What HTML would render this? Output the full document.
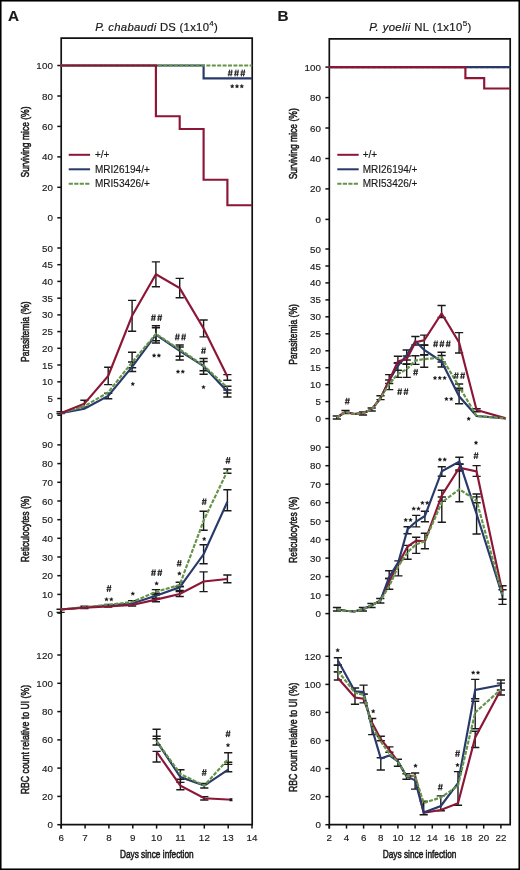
<!DOCTYPE html>
<html><head><meta charset="utf-8"><style>
html,body{margin:0;padding:0;background:#fff;}
body{width:520px;height:870px;overflow:hidden;}
svg{display:block;will-change:transform;}
text{font-family:"Liberation Sans", sans-serif;fill:#1a1a1a;stroke:#1a1a1a;stroke-width:0.15px;}
.hv{stroke:#1a1a1a;stroke-width:0.55px;}
.hs{stroke:#1a1a1a;stroke-width:0.2px;}
</style></head><body>
<svg width="520" height="870" viewBox="0 0 520 870">
<rect width="520" height="870" fill="#fff"/>
<rect x="0.75" y="0.75" width="518.5" height="868.5" fill="none" stroke="#000" stroke-width="1.6"/>
<text x="8.1" y="21.2" font-size="15.3" font-weight="bold">A</text>
<text x="277.5" y="21.1" font-size="15.3" font-weight="bold">B</text>
<text x="156.6" y="31.1" font-size="11.3" letter-spacing="0.28" text-anchor="middle" class="hs"><tspan font-style="italic">P. chabaudi</tspan> DS (1x10<tspan font-size="8" dy="-5">4</tspan><tspan dy="5">)</tspan></text>
<text x="420.4" y="31.1" font-size="11.3" letter-spacing="0.38" text-anchor="middle" class="hs"><tspan font-style="italic">P. yoelii</tspan> NL (1x10<tspan font-size="8" dy="-5">5</tspan><tspan dy="5">)</tspan></text>
<path d="M61.2,38.1H252.2M61.2,37.300000000000004V828.6M252.2,37.300000000000004V824.7M60.400000000000006,824.7H253.0" stroke="#111" stroke-width="1.7" fill="none"/>
<path d="M329.3,38.9H510.2M329.3,38.1V828.6M510.2,38.1V824.7M328.5,824.7H511.0" stroke="#111" stroke-width="1.7" fill="none"/>
<path d="M61.2,824.7V828.6" stroke="#111" stroke-width="1.5"/>
<text x="61.3" y="841.2" font-size="9.8" text-anchor="middle" letter-spacing="0.15">6</text>
<path d="M85.1,824.7V828.6" stroke="#111" stroke-width="1.5"/>
<text x="85.1" y="841.2" font-size="9.8" text-anchor="middle" letter-spacing="0.15">7</text>
<path d="M108.9,824.7V828.6" stroke="#111" stroke-width="1.5"/>
<text x="109.0" y="841.2" font-size="9.8" text-anchor="middle" letter-spacing="0.15">8</text>
<path d="M132.8,824.7V828.6" stroke="#111" stroke-width="1.5"/>
<text x="132.8" y="841.2" font-size="9.8" text-anchor="middle" letter-spacing="0.15">9</text>
<path d="M156.6,824.7V828.6" stroke="#111" stroke-width="1.5"/>
<text x="156.7" y="841.2" font-size="9.8" text-anchor="middle" letter-spacing="0.15">10</text>
<path d="M180.4,824.7V828.6" stroke="#111" stroke-width="1.5"/>
<text x="180.5" y="841.2" font-size="9.8" text-anchor="middle" letter-spacing="0.15">11</text>
<path d="M204.3,824.7V828.6" stroke="#111" stroke-width="1.5"/>
<text x="204.4" y="841.2" font-size="9.8" text-anchor="middle" letter-spacing="0.15">12</text>
<path d="M228.2,824.7V828.6" stroke="#111" stroke-width="1.5"/>
<text x="228.2" y="841.2" font-size="9.8" text-anchor="middle" letter-spacing="0.15">13</text>
<path d="M252.0,824.7V828.6" stroke="#111" stroke-width="1.5"/>
<text x="252.1" y="841.2" font-size="9.8" text-anchor="middle" letter-spacing="0.15">14</text>
<path d="M329.3,824.7V828.6" stroke="#111" stroke-width="1.5"/>
<text x="329.4" y="841.2" font-size="9.8" text-anchor="middle" letter-spacing="0.15">2</text>
<path d="M346.5,824.7V828.6" stroke="#111" stroke-width="1.5"/>
<text x="346.5" y="841.2" font-size="9.8" text-anchor="middle" letter-spacing="0.15">4</text>
<path d="M363.6,824.7V828.6" stroke="#111" stroke-width="1.5"/>
<text x="363.7" y="841.2" font-size="9.8" text-anchor="middle" letter-spacing="0.15">6</text>
<path d="M380.8,824.7V828.6" stroke="#111" stroke-width="1.5"/>
<text x="380.9" y="841.2" font-size="9.8" text-anchor="middle" letter-spacing="0.15">8</text>
<path d="M397.9,824.7V828.6" stroke="#111" stroke-width="1.5"/>
<text x="398.0" y="841.2" font-size="9.8" text-anchor="middle" letter-spacing="0.15">10</text>
<path d="M415.1,824.7V828.6" stroke="#111" stroke-width="1.5"/>
<text x="415.2" y="841.2" font-size="9.8" text-anchor="middle" letter-spacing="0.15">12</text>
<path d="M432.3,824.7V828.6" stroke="#111" stroke-width="1.5"/>
<text x="432.3" y="841.2" font-size="9.8" text-anchor="middle" letter-spacing="0.15">14</text>
<path d="M449.4,824.7V828.6" stroke="#111" stroke-width="1.5"/>
<text x="449.5" y="841.2" font-size="9.8" text-anchor="middle" letter-spacing="0.15">16</text>
<path d="M466.6,824.7V828.6" stroke="#111" stroke-width="1.5"/>
<text x="466.7" y="841.2" font-size="9.8" text-anchor="middle" letter-spacing="0.15">18</text>
<path d="M483.7,824.7V828.6" stroke="#111" stroke-width="1.5"/>
<text x="483.8" y="841.2" font-size="9.8" text-anchor="middle" letter-spacing="0.15">20</text>
<path d="M500.9,824.7V828.6" stroke="#111" stroke-width="1.5"/>
<text x="501.0" y="841.2" font-size="9.8" text-anchor="middle" letter-spacing="0.15">22</text>
<text transform="translate(156.8,858.3) scale(0.755,1)" font-size="11" text-anchor="middle" class="hv">Days since infection</text>
<text transform="translate(419.6,858.3) scale(0.755,1)" font-size="11" text-anchor="middle" class="hv">Days since infection</text>
<path d="M57.3,217.8H61.2" stroke="#111" stroke-width="1.5"/>
<text x="53.1" y="221.3" font-size="9.8" text-anchor="end" letter-spacing="0.15">0</text>
<path d="M57.3,187.3H61.2" stroke="#111" stroke-width="1.5"/>
<text x="53.1" y="190.8" font-size="9.8" text-anchor="end" letter-spacing="0.15">20</text>
<path d="M57.3,156.9H61.2" stroke="#111" stroke-width="1.5"/>
<text x="53.1" y="160.4" font-size="9.8" text-anchor="end" letter-spacing="0.15">40</text>
<path d="M57.3,126.4H61.2" stroke="#111" stroke-width="1.5"/>
<text x="53.1" y="129.9" font-size="9.8" text-anchor="end" letter-spacing="0.15">60</text>
<path d="M57.3,96.0H61.2" stroke="#111" stroke-width="1.5"/>
<text x="53.1" y="99.5" font-size="9.8" text-anchor="end" letter-spacing="0.15">80</text>
<path d="M57.3,65.5H61.2" stroke="#111" stroke-width="1.5"/>
<text x="53.1" y="69.0" font-size="9.8" text-anchor="end" letter-spacing="0.15">100</text>
<path d="M57.3,415.2H61.2" stroke="#111" stroke-width="1.5"/>
<text x="53.1" y="418.7" font-size="9.8" text-anchor="end" letter-spacing="0.15">0</text>
<path d="M57.3,398.5H61.2" stroke="#111" stroke-width="1.5"/>
<text x="53.1" y="402.0" font-size="9.8" text-anchor="end" letter-spacing="0.15">5</text>
<path d="M57.3,381.8H61.2" stroke="#111" stroke-width="1.5"/>
<text x="53.1" y="385.3" font-size="9.8" text-anchor="end" letter-spacing="0.15">10</text>
<path d="M57.3,365.0H61.2" stroke="#111" stroke-width="1.5"/>
<text x="53.1" y="368.5" font-size="9.8" text-anchor="end" letter-spacing="0.15">15</text>
<path d="M57.3,348.3H61.2" stroke="#111" stroke-width="1.5"/>
<text x="53.1" y="351.8" font-size="9.8" text-anchor="end" letter-spacing="0.15">20</text>
<path d="M57.3,331.6H61.2" stroke="#111" stroke-width="1.5"/>
<text x="53.1" y="335.1" font-size="9.8" text-anchor="end" letter-spacing="0.15">25</text>
<path d="M57.3,314.9H61.2" stroke="#111" stroke-width="1.5"/>
<text x="53.1" y="318.4" font-size="9.8" text-anchor="end" letter-spacing="0.15">30</text>
<path d="M57.3,298.2H61.2" stroke="#111" stroke-width="1.5"/>
<text x="53.1" y="301.7" font-size="9.8" text-anchor="end" letter-spacing="0.15">35</text>
<path d="M57.3,281.4H61.2" stroke="#111" stroke-width="1.5"/>
<text x="53.1" y="284.9" font-size="9.8" text-anchor="end" letter-spacing="0.15">40</text>
<path d="M57.3,264.7H61.2" stroke="#111" stroke-width="1.5"/>
<text x="53.1" y="268.2" font-size="9.8" text-anchor="end" letter-spacing="0.15">45</text>
<path d="M57.3,248.0H61.2" stroke="#111" stroke-width="1.5"/>
<text x="53.1" y="251.5" font-size="9.8" text-anchor="end" letter-spacing="0.15">50</text>
<path d="M57.3,613.1H61.2" stroke="#111" stroke-width="1.5"/>
<text x="53.1" y="616.6" font-size="9.8" text-anchor="end" letter-spacing="0.15">0</text>
<path d="M57.3,594.4H61.2" stroke="#111" stroke-width="1.5"/>
<text x="53.1" y="597.9" font-size="9.8" text-anchor="end" letter-spacing="0.15">10</text>
<path d="M57.3,575.7H61.2" stroke="#111" stroke-width="1.5"/>
<text x="53.1" y="579.2" font-size="9.8" text-anchor="end" letter-spacing="0.15">20</text>
<path d="M57.3,557.0H61.2" stroke="#111" stroke-width="1.5"/>
<text x="53.1" y="560.5" font-size="9.8" text-anchor="end" letter-spacing="0.15">30</text>
<path d="M57.3,538.3H61.2" stroke="#111" stroke-width="1.5"/>
<text x="53.1" y="541.8" font-size="9.8" text-anchor="end" letter-spacing="0.15">40</text>
<path d="M57.3,519.7H61.2" stroke="#111" stroke-width="1.5"/>
<text x="53.1" y="523.2" font-size="9.8" text-anchor="end" letter-spacing="0.15">50</text>
<path d="M57.3,501.0H61.2" stroke="#111" stroke-width="1.5"/>
<text x="53.1" y="504.5" font-size="9.8" text-anchor="end" letter-spacing="0.15">60</text>
<path d="M57.3,482.3H61.2" stroke="#111" stroke-width="1.5"/>
<text x="53.1" y="485.8" font-size="9.8" text-anchor="end" letter-spacing="0.15">70</text>
<path d="M57.3,463.6H61.2" stroke="#111" stroke-width="1.5"/>
<text x="53.1" y="467.1" font-size="9.8" text-anchor="end" letter-spacing="0.15">80</text>
<path d="M57.3,444.9H61.2" stroke="#111" stroke-width="1.5"/>
<text x="53.1" y="448.4" font-size="9.8" text-anchor="end" letter-spacing="0.15">90</text>
<path d="M57.3,824.7H61.2" stroke="#111" stroke-width="1.5"/>
<text x="53.1" y="828.2" font-size="9.8" text-anchor="end" letter-spacing="0.15">0</text>
<path d="M57.3,796.4H61.2" stroke="#111" stroke-width="1.5"/>
<text x="53.1" y="799.9" font-size="9.8" text-anchor="end" letter-spacing="0.15">20</text>
<path d="M57.3,768.1H61.2" stroke="#111" stroke-width="1.5"/>
<text x="53.1" y="771.6" font-size="9.8" text-anchor="end" letter-spacing="0.15">40</text>
<path d="M57.3,739.9H61.2" stroke="#111" stroke-width="1.5"/>
<text x="53.1" y="743.4" font-size="9.8" text-anchor="end" letter-spacing="0.15">60</text>
<path d="M57.3,711.6H61.2" stroke="#111" stroke-width="1.5"/>
<text x="53.1" y="715.1" font-size="9.8" text-anchor="end" letter-spacing="0.15">80</text>
<path d="M57.3,683.3H61.2" stroke="#111" stroke-width="1.5"/>
<text x="53.1" y="686.8" font-size="9.8" text-anchor="end" letter-spacing="0.15">100</text>
<path d="M57.3,655.0H61.2" stroke="#111" stroke-width="1.5"/>
<text x="53.1" y="658.5" font-size="9.8" text-anchor="end" letter-spacing="0.15">120</text>
<path d="M325.4,219.4H329.3" stroke="#111" stroke-width="1.5"/>
<text x="321.2" y="222.9" font-size="9.8" text-anchor="end" letter-spacing="0.15">0</text>
<path d="M325.4,188.9H329.3" stroke="#111" stroke-width="1.5"/>
<text x="321.2" y="192.4" font-size="9.8" text-anchor="end" letter-spacing="0.15">20</text>
<path d="M325.4,158.5H329.3" stroke="#111" stroke-width="1.5"/>
<text x="321.2" y="162.0" font-size="9.8" text-anchor="end" letter-spacing="0.15">40</text>
<path d="M325.4,128.0H329.3" stroke="#111" stroke-width="1.5"/>
<text x="321.2" y="131.5" font-size="9.8" text-anchor="end" letter-spacing="0.15">60</text>
<path d="M325.4,97.6H329.3" stroke="#111" stroke-width="1.5"/>
<text x="321.2" y="101.1" font-size="9.8" text-anchor="end" letter-spacing="0.15">80</text>
<path d="M325.4,67.1H329.3" stroke="#111" stroke-width="1.5"/>
<text x="321.2" y="70.6" font-size="9.8" text-anchor="end" letter-spacing="0.15">100</text>
<path d="M325.4,418.6H329.3" stroke="#111" stroke-width="1.5"/>
<text x="321.2" y="422.1" font-size="9.8" text-anchor="end" letter-spacing="0.15">0</text>
<path d="M325.4,401.6H329.3" stroke="#111" stroke-width="1.5"/>
<text x="321.2" y="405.1" font-size="9.8" text-anchor="end" letter-spacing="0.15">5</text>
<path d="M325.4,384.7H329.3" stroke="#111" stroke-width="1.5"/>
<text x="321.2" y="388.2" font-size="9.8" text-anchor="end" letter-spacing="0.15">10</text>
<path d="M325.4,367.7H329.3" stroke="#111" stroke-width="1.5"/>
<text x="321.2" y="371.2" font-size="9.8" text-anchor="end" letter-spacing="0.15">15</text>
<path d="M325.4,350.8H329.3" stroke="#111" stroke-width="1.5"/>
<text x="321.2" y="354.3" font-size="9.8" text-anchor="end" letter-spacing="0.15">20</text>
<path d="M325.4,333.8H329.3" stroke="#111" stroke-width="1.5"/>
<text x="321.2" y="337.3" font-size="9.8" text-anchor="end" letter-spacing="0.15">25</text>
<path d="M325.4,316.8H329.3" stroke="#111" stroke-width="1.5"/>
<text x="321.2" y="320.3" font-size="9.8" text-anchor="end" letter-spacing="0.15">30</text>
<path d="M325.4,299.9H329.3" stroke="#111" stroke-width="1.5"/>
<text x="321.2" y="303.4" font-size="9.8" text-anchor="end" letter-spacing="0.15">35</text>
<path d="M325.4,282.9H329.3" stroke="#111" stroke-width="1.5"/>
<text x="321.2" y="286.4" font-size="9.8" text-anchor="end" letter-spacing="0.15">40</text>
<path d="M325.4,266.0H329.3" stroke="#111" stroke-width="1.5"/>
<text x="321.2" y="269.5" font-size="9.8" text-anchor="end" letter-spacing="0.15">45</text>
<path d="M325.4,249.0H329.3" stroke="#111" stroke-width="1.5"/>
<text x="321.2" y="252.5" font-size="9.8" text-anchor="end" letter-spacing="0.15">50</text>
<path d="M325.4,613.6H329.3" stroke="#111" stroke-width="1.5"/>
<text x="321.2" y="617.1" font-size="9.8" text-anchor="end" letter-spacing="0.15">0</text>
<path d="M325.4,595.1H329.3" stroke="#111" stroke-width="1.5"/>
<text x="321.2" y="598.6" font-size="9.8" text-anchor="end" letter-spacing="0.15">10</text>
<path d="M325.4,576.6H329.3" stroke="#111" stroke-width="1.5"/>
<text x="321.2" y="580.1" font-size="9.8" text-anchor="end" letter-spacing="0.15">20</text>
<path d="M325.4,558.1H329.3" stroke="#111" stroke-width="1.5"/>
<text x="321.2" y="561.6" font-size="9.8" text-anchor="end" letter-spacing="0.15">30</text>
<path d="M325.4,539.6H329.3" stroke="#111" stroke-width="1.5"/>
<text x="321.2" y="543.1" font-size="9.8" text-anchor="end" letter-spacing="0.15">40</text>
<path d="M325.4,521.2H329.3" stroke="#111" stroke-width="1.5"/>
<text x="321.2" y="524.7" font-size="9.8" text-anchor="end" letter-spacing="0.15">50</text>
<path d="M325.4,502.7H329.3" stroke="#111" stroke-width="1.5"/>
<text x="321.2" y="506.2" font-size="9.8" text-anchor="end" letter-spacing="0.15">60</text>
<path d="M325.4,484.2H329.3" stroke="#111" stroke-width="1.5"/>
<text x="321.2" y="487.7" font-size="9.8" text-anchor="end" letter-spacing="0.15">70</text>
<path d="M325.4,465.7H329.3" stroke="#111" stroke-width="1.5"/>
<text x="321.2" y="469.2" font-size="9.8" text-anchor="end" letter-spacing="0.15">80</text>
<path d="M325.4,447.2H329.3" stroke="#111" stroke-width="1.5"/>
<text x="321.2" y="450.7" font-size="9.8" text-anchor="end" letter-spacing="0.15">90</text>
<path d="M325.4,824.7H329.3" stroke="#111" stroke-width="1.5"/>
<text x="321.2" y="828.2" font-size="9.8" text-anchor="end" letter-spacing="0.15">0</text>
<path d="M325.4,796.6H329.3" stroke="#111" stroke-width="1.5"/>
<text x="321.2" y="800.1" font-size="9.8" text-anchor="end" letter-spacing="0.15">20</text>
<path d="M325.4,768.6H329.3" stroke="#111" stroke-width="1.5"/>
<text x="321.2" y="772.1" font-size="9.8" text-anchor="end" letter-spacing="0.15">40</text>
<path d="M325.4,740.5H329.3" stroke="#111" stroke-width="1.5"/>
<text x="321.2" y="744.0" font-size="9.8" text-anchor="end" letter-spacing="0.15">60</text>
<path d="M325.4,712.4H329.3" stroke="#111" stroke-width="1.5"/>
<text x="321.2" y="715.9" font-size="9.8" text-anchor="end" letter-spacing="0.15">80</text>
<path d="M325.4,684.4H329.3" stroke="#111" stroke-width="1.5"/>
<text x="321.2" y="687.9" font-size="9.8" text-anchor="end" letter-spacing="0.15">100</text>
<path d="M325.4,656.3H329.3" stroke="#111" stroke-width="1.5"/>
<text x="321.2" y="659.8" font-size="9.8" text-anchor="end" letter-spacing="0.15">120</text>
<text transform="translate(28.7,142.0) rotate(-90) scale(0.755,1)" font-size="11.3" text-anchor="middle" class="hv">Surviving mice (%)</text>
<text transform="translate(28.7,331.6) rotate(-90) scale(0.755,1)" font-size="11.3" text-anchor="middle" class="hv">Parasitemia (%)</text>
<text transform="translate(28.7,529.0) rotate(-90) scale(0.755,1)" font-size="11.3" text-anchor="middle" class="hv">Reticulocytes (%)</text>
<text transform="translate(28.7,739.6) rotate(-90) scale(0.772,1)" font-size="11.3" text-anchor="middle" class="hv">RBC count relative to UI (%)</text>
<text transform="translate(296.8,143.8) rotate(-90) scale(0.755,1)" font-size="11.3" text-anchor="middle" class="hv">Surviving mice (%)</text>
<text transform="translate(296.8,334.5) rotate(-90) scale(0.755,1)" font-size="11.3" text-anchor="middle" class="hv">Parasitemia (%)</text>
<text transform="translate(296.8,529.8) rotate(-90) scale(0.755,1)" font-size="11.3" text-anchor="middle" class="hv">Reticulocytes (%)</text>
<text transform="translate(296.8,737.4) rotate(-90) scale(0.772,1)" font-size="11.3" text-anchor="middle" class="hv">RBC count relative to UI (%)</text>
<path d="M68.7,154.8H90.1" stroke="#8c1636" stroke-width="2"/>
<text x="95.0" y="158.4" font-size="10" text-anchor="start" >+/+</text>
<path d="M68.7,169.3H90.1" stroke="#28396a" stroke-width="2"/>
<text x="95.0" y="172.9" font-size="10" text-anchor="start" >MRI26194/+</text>
<path d="M68.7,183.8H90.1" stroke="#649349" stroke-width="2" stroke-dasharray="4.2,1.3"/>
<text x="95.0" y="187.4" font-size="10" text-anchor="start" >MRI53426/+</text>
<path d="M337.3,154.8H358.7" stroke="#8c1636" stroke-width="2"/>
<text x="362.7" y="158.4" font-size="10" text-anchor="start" >+/+</text>
<path d="M337.3,169.3H358.7" stroke="#28396a" stroke-width="2"/>
<text x="362.7" y="172.9" font-size="10" text-anchor="start" >MRI26194/+</text>
<path d="M337.3,183.8H358.7" stroke="#649349" stroke-width="2" stroke-dasharray="4.2,1.3"/>
<text x="362.7" y="187.4" font-size="10" text-anchor="start" >MRI53426/+</text>
<polyline points="60.6,65.5 203.6,65.5 203.6,78.4 252.2,78.4" fill="none" stroke="#28396a" stroke-width="2.15" stroke-linejoin="miter"/>
<polyline points="60.6,65.5 252.2,65.5" fill="none" stroke="#649349" stroke-width="2.15" stroke-linejoin="miter" stroke-dasharray="4.0,1.4"/>
<polyline points="60.6,65.5 155.9,65.5 155.9,116.2 179.7,116.2 179.7,129.0 203.6,129.0 203.6,179.7 227.4,179.7 227.4,205.2 252.2,205.2" fill="none" stroke="#8c1636" stroke-width="2.15" stroke-linejoin="miter"/>
<path d="M229.75,69.70L228.65,76.30M231.95,69.70L230.85,76.30M228.00,71.90H232.70M227.70,74.30H232.40M236.05,69.70L234.95,76.30M238.25,69.70L237.15,76.30M234.30,71.90H239.00M234.00,74.30H238.70M242.35,69.70L241.25,76.30M244.55,69.70L243.45,76.30M240.60,71.90H245.30M240.30,74.30H245.00" stroke="#2a2a2a" stroke-width="1.05" fill="none"/>
<polygon points="232.20,84.30 232.73,85.57 234.10,85.68 233.06,86.58 233.38,87.92 232.20,87.20 231.02,87.92 231.34,86.58 230.30,85.68 231.67,85.57" fill="#151515" stroke="#151515" stroke-width="0.35" stroke-linejoin="round"/>
<polygon points="237.00,84.30 237.53,85.57 238.90,85.68 237.86,86.58 238.18,87.92 237.00,87.20 235.82,87.92 236.14,86.58 235.10,85.68 236.47,85.57" fill="#151515" stroke="#151515" stroke-width="0.35" stroke-linejoin="round"/>
<polygon points="241.80,84.30 242.33,85.57 243.70,85.68 242.66,86.58 242.98,87.92 241.80,87.20 240.62,87.92 240.94,86.58 239.90,85.68 241.27,85.57" fill="#151515" stroke="#151515" stroke-width="0.35" stroke-linejoin="round"/>
<polyline points="328.7,67.1 510.2,67.1" fill="none" stroke="#649349" stroke-width="2.15" stroke-linejoin="miter" stroke-dasharray="4.0,1.4"/>
<polyline points="328.7,67.1 510.2,67.1" fill="none" stroke="#28396a" stroke-width="2.15" stroke-linejoin="miter"/>
<polyline points="328.7,67.1 465.4,67.1 465.4,78.1 484.2,78.1 484.2,88.5 510.2,88.5" fill="none" stroke="#8c1636" stroke-width="2.15" stroke-linejoin="miter"/>
<path d="M60.6,411.8V413.6M56.5,411.8H64.7M56.5,413.6H64.7" stroke="#1a1a1a" stroke-width="1.4" fill="none"/>
<path d="M84.4,400.2V407.0M80.3,400.2H88.5M80.3,407.0H88.5" stroke="#1a1a1a" stroke-width="1.4" fill="none"/>
<path d="M108.2,367.3V384.6M104.1,367.3H112.3M104.1,384.6H112.3" stroke="#1a1a1a" stroke-width="1.4" fill="none"/>
<path d="M132.1,300.4V331.2M128.0,300.4H136.2M128.0,331.2H136.2" stroke="#1a1a1a" stroke-width="1.4" fill="none"/>
<path d="M155.9,261.9V286.8M151.8,261.9H160.0M151.8,286.8H160.0" stroke="#1a1a1a" stroke-width="1.4" fill="none"/>
<path d="M179.7,278.4V297.8M175.6,278.4H183.8M175.6,297.8H183.8" stroke="#1a1a1a" stroke-width="1.4" fill="none"/>
<path d="M203.6,320.0V336.9M199.5,320.0H207.7M199.5,336.9H207.7" stroke="#1a1a1a" stroke-width="1.4" fill="none"/>
<path d="M227.4,374.6V380.3M223.3,374.6H231.5M223.3,380.3H231.5" stroke="#1a1a1a" stroke-width="1.4" fill="none"/>
<path d="M108.2,393.3V398.8M104.1,393.3H112.3M104.1,398.8H112.3" stroke="#1a1a1a" stroke-width="1.4" fill="none"/>
<path d="M132.1,362.0V371.5M128.0,362.0H136.2M128.0,371.5H136.2" stroke="#1a1a1a" stroke-width="1.4" fill="none"/>
<path d="M155.9,327.7V343.0M151.8,327.7H160.0M151.8,343.0H160.0" stroke="#1a1a1a" stroke-width="1.4" fill="none"/>
<path d="M179.7,347.0V360.0M175.6,347.0H183.8M175.6,360.0H183.8" stroke="#1a1a1a" stroke-width="1.4" fill="none"/>
<path d="M203.6,361.5V374.2M199.5,361.5H207.7M199.5,374.2H207.7" stroke="#1a1a1a" stroke-width="1.4" fill="none"/>
<path d="M227.4,390.0V397.0M223.3,390.0H231.5M223.3,397.0H231.5" stroke="#1a1a1a" stroke-width="1.4" fill="none"/>
<path d="M132.1,352.3V367.7M128.0,352.3H136.2M128.0,367.7H136.2" stroke="#1a1a1a" stroke-width="1.4" fill="none"/>
<path d="M155.9,325.8V340.8M151.8,325.8H160.0M151.8,340.8H160.0" stroke="#1a1a1a" stroke-width="1.4" fill="none"/>
<path d="M179.7,345.0V356.2M175.6,345.0H183.8M175.6,356.2H183.8" stroke="#1a1a1a" stroke-width="1.4" fill="none"/>
<path d="M203.6,358.5V370.8M199.5,358.5H207.7M199.5,370.8H207.7" stroke="#1a1a1a" stroke-width="1.4" fill="none"/>
<path d="M227.4,386.2V393.0M223.3,386.2H231.5M223.3,393.0H231.5" stroke="#1a1a1a" stroke-width="1.4" fill="none"/>
<polyline points="60.6,413.2 84.4,408.8 108.2,395.9 132.1,366.9 155.9,334.6 179.7,350.8 203.6,366.2 227.4,391.5" fill="none" stroke="#28396a" stroke-width="2.15" stroke-linejoin="miter"/>
<polyline points="60.6,413.2 84.4,406.2 108.2,392.4 132.1,362.3 155.9,334.0 179.7,349.5 203.6,365.5 227.4,387.7" fill="none" stroke="#649349" stroke-width="2.15" stroke-linejoin="miter" stroke-dasharray="4.0,1.4"/>
<polyline points="60.6,413.2 84.4,403.7 108.2,376.0 132.1,315.8 155.9,274.2 179.7,288.1 203.6,328.5 227.4,376.5" fill="none" stroke="#8c1636" stroke-width="2.15" stroke-linejoin="miter"/>
<polygon points="132.80,382.00 133.33,383.27 134.70,383.38 133.66,384.28 133.98,385.62 132.80,384.90 131.62,385.62 131.94,384.28 130.90,383.38 132.27,383.27" fill="#151515" stroke="#151515" stroke-width="0.35" stroke-linejoin="round"/>
<path d="M152.90,314.40L151.80,321.00M155.10,314.40L154.00,321.00M151.15,316.60H155.85M150.85,319.00H155.55M159.20,314.40L158.10,321.00M161.40,314.40L160.30,321.00M157.45,316.60H162.15M157.15,319.00H161.85" stroke="#2a2a2a" stroke-width="1.05" fill="none"/>
<polygon points="154.10,353.60 154.63,354.87 156.00,354.98 154.96,355.88 155.28,357.22 154.10,356.50 152.92,357.22 153.24,355.88 152.20,354.98 153.57,354.87" fill="#151515" stroke="#151515" stroke-width="0.35" stroke-linejoin="round"/>
<polygon points="158.90,353.60 159.43,354.87 160.80,354.98 159.76,355.88 160.08,357.22 158.90,356.50 157.72,357.22 158.04,355.88 157.00,354.98 158.37,354.87" fill="#151515" stroke="#151515" stroke-width="0.35" stroke-linejoin="round"/>
<path d="M176.80,333.70L175.70,340.30M179.00,333.70L177.90,340.30M175.05,335.90H179.75M174.75,338.30H179.45M183.10,333.70L182.00,340.30M185.30,333.70L184.20,340.30M181.35,335.90H186.05M181.05,338.30H185.75" stroke="#2a2a2a" stroke-width="1.05" fill="none"/>
<polygon points="178.00,369.70 178.53,370.97 179.90,371.08 178.86,371.98 179.18,373.32 178.00,372.60 176.82,373.32 177.14,371.98 176.10,371.08 177.47,370.97" fill="#151515" stroke="#151515" stroke-width="0.35" stroke-linejoin="round"/>
<polygon points="182.80,369.70 183.33,370.97 184.70,371.08 183.66,371.98 183.98,373.32 182.80,372.60 181.62,373.32 181.94,371.98 180.90,371.08 182.27,370.97" fill="#151515" stroke="#151515" stroke-width="0.35" stroke-linejoin="round"/>
<path d="M203.05,347.30L201.95,353.90M205.25,347.30L204.15,353.90M201.30,349.50H206.00M201.00,351.90H205.70" stroke="#2a2a2a" stroke-width="1.05" fill="none"/>
<polygon points="203.50,385.20 204.03,386.47 205.40,386.58 204.36,387.48 204.68,388.82 203.50,388.10 202.32,388.82 202.64,387.48 201.60,386.58 202.97,386.47" fill="#151515" stroke="#151515" stroke-width="0.35" stroke-linejoin="round"/>
<path d="M60.6,609.3V612.4M56.5,609.3H64.7M56.5,612.4H64.7" stroke="#1a1a1a" stroke-width="1.4" fill="none"/>
<path d="M84.4,606.3V608.6M80.3,606.3H88.5M80.3,608.6H88.5" stroke="#1a1a1a" stroke-width="1.4" fill="none"/>
<path d="M108.2,604.5V607.0M104.1,604.5H112.3M104.1,607.0H112.3" stroke="#1a1a1a" stroke-width="1.4" fill="none"/>
<path d="M132.1,600.6V606.0M128.0,600.6H136.2M128.0,606.0H136.2" stroke="#1a1a1a" stroke-width="1.4" fill="none"/>
<path d="M155.9,589.6V593.2M151.8,589.6H160.0M151.8,593.2H160.0" stroke="#1a1a1a" stroke-width="1.4" fill="none"/>
<path d="M155.9,594.8V598.2M151.8,594.8H160.0M151.8,598.2H160.0" stroke="#1a1a1a" stroke-width="1.4" fill="none"/>
<path d="M155.9,598.8V601.8M151.8,598.8H160.0M151.8,601.8H160.0" stroke="#1a1a1a" stroke-width="1.4" fill="none"/>
<path d="M179.7,582.3V586.2M175.6,582.3H183.8M175.6,586.2H183.8" stroke="#1a1a1a" stroke-width="1.4" fill="none"/>
<path d="M179.7,586.8V590.4M175.6,586.8H183.8M175.6,590.4H183.8" stroke="#1a1a1a" stroke-width="1.4" fill="none"/>
<path d="M179.7,591.5V596.5M175.6,591.5H183.8M175.6,596.5H183.8" stroke="#1a1a1a" stroke-width="1.4" fill="none"/>
<path d="M203.6,571.9V591.6M199.5,571.9H207.7M199.5,591.6H207.7" stroke="#1a1a1a" stroke-width="1.4" fill="none"/>
<path d="M227.4,575.0V582.8M223.3,575.0H231.5M223.3,582.8H231.5" stroke="#1a1a1a" stroke-width="1.4" fill="none"/>
<path d="M203.6,544.8V563.8M199.5,544.8H207.7M199.5,563.8H207.7" stroke="#1a1a1a" stroke-width="1.4" fill="none"/>
<path d="M227.4,489.7V510.7M223.3,489.7H231.5M223.3,510.7H231.5" stroke="#1a1a1a" stroke-width="1.4" fill="none"/>
<path d="M203.6,511.2V530.2M199.5,511.2H207.7M199.5,530.2H207.7" stroke="#1a1a1a" stroke-width="1.4" fill="none"/>
<path d="M227.4,469.0V473.3M223.3,469.0H231.5M223.3,473.3H231.5" stroke="#1a1a1a" stroke-width="1.4" fill="none"/>
<polyline points="60.6,609.5 84.4,607.5 108.2,605.4 132.1,603.5 155.9,595.8 179.7,587.3 203.6,554.3 227.4,501.7" fill="none" stroke="#28396a" stroke-width="2.15" stroke-linejoin="miter"/>
<polyline points="60.6,609.5 84.4,607.2 108.2,604.8 132.1,602.0 155.9,591.9 179.7,584.9 203.6,520.7 227.4,471.0" fill="none" stroke="#649349" stroke-width="2.15" stroke-linejoin="miter" stroke-dasharray="4.0,1.4"/>
<polyline points="60.6,609.5 84.4,607.8 108.2,606.5 132.1,605.0 155.9,599.6 179.7,594.0 203.6,581.5 227.4,579.0" fill="none" stroke="#8c1636" stroke-width="2.15" stroke-linejoin="miter"/>
<path d="M108.45,585.20L107.35,591.80M110.65,585.20L109.55,591.80M106.70,587.40H111.40M106.40,589.80H111.10" stroke="#2a2a2a" stroke-width="1.05" fill="none"/>
<polygon points="106.50,597.40 107.03,598.67 108.40,598.78 107.36,599.68 107.68,601.02 106.50,600.30 105.32,601.02 105.64,599.68 104.60,598.78 105.97,598.67" fill="#151515" stroke="#151515" stroke-width="0.35" stroke-linejoin="round"/>
<polygon points="111.30,597.40 111.83,598.67 113.20,598.78 112.16,599.68 112.48,601.02 111.30,600.30 110.12,601.02 110.44,599.68 109.40,598.78 110.77,598.67" fill="#151515" stroke="#151515" stroke-width="0.35" stroke-linejoin="round"/>
<polygon points="132.80,591.70 133.33,592.97 134.70,593.08 133.66,593.98 133.98,595.32 132.80,594.60 131.62,595.32 131.94,593.98 130.90,593.08 132.27,592.97" fill="#151515" stroke="#151515" stroke-width="0.35" stroke-linejoin="round"/>
<path d="M153.00,569.40L151.90,576.00M155.20,569.40L154.10,576.00M151.25,571.60H155.95M150.95,574.00H155.65M159.30,569.40L158.20,576.00M161.50,569.40L160.40,576.00M157.55,571.60H162.25M157.25,574.00H161.95" stroke="#2a2a2a" stroke-width="1.05" fill="none"/>
<polygon points="156.60,581.50 157.13,582.77 158.50,582.88 157.46,583.78 157.78,585.12 156.60,584.40 155.42,585.12 155.74,583.78 154.70,582.88 156.07,582.77" fill="#151515" stroke="#151515" stroke-width="0.35" stroke-linejoin="round"/>
<path d="M178.75,560.00L177.65,566.60M180.95,560.00L179.85,566.60M177.00,562.20H181.70M176.70,564.60H181.40" stroke="#2a2a2a" stroke-width="1.05" fill="none"/>
<polygon points="179.40,571.60 179.93,572.87 181.30,572.98 180.26,573.88 180.58,575.22 179.40,574.50 178.22,575.22 178.54,573.88 177.50,572.98 178.87,572.87" fill="#151515" stroke="#151515" stroke-width="0.35" stroke-linejoin="round"/>
<path d="M203.75,498.40L202.65,505.00M205.95,498.40L204.85,505.00M202.00,500.60H206.70M201.70,503.00H206.40" stroke="#2a2a2a" stroke-width="1.05" fill="none"/>
<polygon points="204.20,537.00 204.73,538.27 206.10,538.38 205.06,539.28 205.38,540.62 204.20,539.90 203.02,540.62 203.34,539.28 202.30,538.38 203.67,538.27" fill="#151515" stroke="#151515" stroke-width="0.35" stroke-linejoin="round"/>
<path d="M227.55,457.00L226.45,463.60M229.75,457.00L228.65,463.60M225.80,459.20H230.50M225.50,461.60H230.20" stroke="#2a2a2a" stroke-width="1.05" fill="none"/>
<path d="M156.6,751.4V762.0M152.5,751.4H160.7M152.5,762.0H160.7" stroke="#1a1a1a" stroke-width="1.4" fill="none"/>
<path d="M180.4,779.2V789.8M176.3,779.2H184.5M176.3,789.8H184.5" stroke="#1a1a1a" stroke-width="1.4" fill="none"/>
<path d="M204.3,796.6V800.0M200.2,796.6H208.4M200.2,800.0H208.4" stroke="#1a1a1a" stroke-width="1.4" fill="none"/>
<path d="M156.6,736.3V745.0M152.5,736.3H160.7M152.5,745.0H160.7" stroke="#1a1a1a" stroke-width="1.4" fill="none"/>
<path d="M180.4,769.7V782.4M176.3,769.7H184.5M176.3,782.4H184.5" stroke="#1a1a1a" stroke-width="1.4" fill="none"/>
<path d="M204.3,783.5V788.0M200.2,783.5H208.4M200.2,788.0H208.4" stroke="#1a1a1a" stroke-width="1.4" fill="none"/>
<path d="M228.2,762.3V771.8M224.1,762.3H232.3M224.1,771.8H232.3" stroke="#1a1a1a" stroke-width="1.4" fill="none"/>
<path d="M156.6,729.3V738.7M152.5,729.3H160.7M152.5,738.7H160.7" stroke="#1a1a1a" stroke-width="1.4" fill="none"/>
<path d="M228.2,752.8V764.4M224.1,752.8H232.3M224.1,764.4H232.3" stroke="#1a1a1a" stroke-width="1.4" fill="none"/>
<polyline points="156.6,751.9 180.4,785.6 204.3,798.3 232.0,799.8" fill="none" stroke="#8c1636" stroke-width="2.15" stroke-linejoin="miter"/>
<path d="M231.0,799.0V800.6M229.5,799.0H232.5M229.5,800.6H232.5" stroke="#1a1a1a" stroke-width="1.4" fill="none"/>
<polyline points="156.6,741.2 180.4,777.1 204.3,785.6 228.2,769.7" fill="none" stroke="#28396a" stroke-width="2.15" stroke-linejoin="miter"/>
<polyline points="156.6,741.2 180.4,774.0 204.3,785.6 228.2,759.1" fill="none" stroke="#649349" stroke-width="2.15" stroke-linejoin="miter" stroke-dasharray="4.0,1.4"/>
<path d="M203.75,769.20L202.65,775.80M205.95,769.20L204.85,775.80M202.00,771.40H206.70M201.70,773.80H206.40" stroke="#2a2a2a" stroke-width="1.05" fill="none"/>
<path d="M227.55,730.50L226.45,737.10M229.75,730.50L228.65,737.10M225.80,732.70H230.50M225.50,735.10H230.20" stroke="#2a2a2a" stroke-width="1.05" fill="none"/>
<polygon points="228.00,743.20 228.53,744.47 229.90,744.58 228.86,745.48 229.18,746.82 228.00,746.10 226.82,746.82 227.14,745.48 226.10,744.58 227.47,744.47" fill="#151515" stroke="#151515" stroke-width="0.35" stroke-linejoin="round"/>
<path d="M336.8,416.0V419.0M332.7,416.0H340.9M332.7,419.0H340.9" stroke="#1a1a1a" stroke-width="1.4" fill="none"/>
<path d="M345.5,410.5V413.5M341.4,410.5H349.6M341.4,413.5H349.6" stroke="#1a1a1a" stroke-width="1.4" fill="none"/>
<path d="M363.0,412.0V415.0M358.9,412.0H367.1M358.9,415.0H367.1" stroke="#1a1a1a" stroke-width="1.4" fill="none"/>
<path d="M371.7,408.0V411.0M367.6,408.0H375.8M367.6,411.0H375.8" stroke="#1a1a1a" stroke-width="1.4" fill="none"/>
<path d="M380.5,395.8V399.6M376.4,395.8H384.6M376.4,399.6H384.6" stroke="#1a1a1a" stroke-width="1.4" fill="none"/>
<path d="M389.2,374.6V383.5M385.1,374.6H393.3M385.1,383.5H393.3" stroke="#1a1a1a" stroke-width="1.4" fill="none"/>
<path d="M397.9,356.3V363.0M393.8,356.3H402.0M393.8,363.0H402.0" stroke="#1a1a1a" stroke-width="1.4" fill="none"/>
<path d="M406.7,356.0V364.2M402.6,356.0H410.8M402.6,364.2H410.8" stroke="#1a1a1a" stroke-width="1.4" fill="none"/>
<path d="M415.4,336.5V345.0M411.3,336.5H419.5M411.3,345.0H419.5" stroke="#1a1a1a" stroke-width="1.4" fill="none"/>
<path d="M424.2,335.1V345.2M420.1,335.1H428.3M420.1,345.2H428.3" stroke="#1a1a1a" stroke-width="1.4" fill="none"/>
<path d="M441.6,305.5V317.5M437.5,305.5H445.7M437.5,317.5H445.7" stroke="#1a1a1a" stroke-width="1.4" fill="none"/>
<path d="M459.1,332.6V353.0M455.0,332.6H463.2M455.0,353.0H463.2" stroke="#1a1a1a" stroke-width="1.4" fill="none"/>
<path d="M476.6,408.8V411.8M472.5,408.8H480.7M472.5,411.8H480.7" stroke="#1a1a1a" stroke-width="1.4" fill="none"/>
<path d="M397.9,363.0V370.4M393.8,363.0H402.0M393.8,370.4H402.0" stroke="#1a1a1a" stroke-width="1.4" fill="none"/>
<path d="M406.7,350.0V360.0M402.6,350.0H410.8M402.6,360.0H410.8" stroke="#1a1a1a" stroke-width="1.4" fill="none"/>
<path d="M424.2,345.0V355.0M420.1,345.0H428.3M420.1,355.0H428.3" stroke="#1a1a1a" stroke-width="1.4" fill="none"/>
<path d="M441.6,355.5V367.0M437.5,355.5H445.7M437.5,367.0H445.7" stroke="#1a1a1a" stroke-width="1.4" fill="none"/>
<path d="M459.1,390.0V403.7M455.0,390.0H463.2M455.0,403.7H463.2" stroke="#1a1a1a" stroke-width="1.4" fill="none"/>
<path d="M389.2,380.0V389.6M385.1,380.0H393.3M385.1,389.6H393.3" stroke="#1a1a1a" stroke-width="1.4" fill="none"/>
<path d="M397.9,370.4V377.4M393.8,370.4H402.0M393.8,377.4H402.0" stroke="#1a1a1a" stroke-width="1.4" fill="none"/>
<path d="M406.7,364.0V377.4M402.6,364.0H410.8M402.6,377.4H410.8" stroke="#1a1a1a" stroke-width="1.4" fill="none"/>
<path d="M415.4,355.8V364.4M411.3,355.8H419.5M411.3,364.4H419.5" stroke="#1a1a1a" stroke-width="1.4" fill="none"/>
<path d="M424.2,354.8V367.3M420.1,354.8H428.3M420.1,367.3H428.3" stroke="#1a1a1a" stroke-width="1.4" fill="none"/>
<path d="M441.6,352.2V362.0M437.5,352.2H445.7M437.5,362.0H445.7" stroke="#1a1a1a" stroke-width="1.4" fill="none"/>
<path d="M459.1,384.0V388.2M455.0,384.0H463.2M455.0,388.2H463.2" stroke="#1a1a1a" stroke-width="1.4" fill="none"/>
<polyline points="336.8,417.5 345.5,411.9 354.2,414.0 363.0,413.1 371.7,409.4 380.5,398.1 389.2,380.4 397.9,365.8 406.7,355.3 415.4,341.2 424.2,350.0 441.6,361.5 459.1,396.3 476.6,416.0 505.9,418.4" fill="none" stroke="#28396a" stroke-width="2.15" stroke-linejoin="miter"/>
<polyline points="336.8,417.5 345.5,411.9 354.2,414.0 363.0,413.1 371.7,409.4 380.5,398.1 389.2,380.4 397.9,361.5 406.7,359.0 415.4,342.3 424.2,340.4 441.6,313.5 459.1,342.4 476.6,410.0 505.9,418.4" fill="none" stroke="#8c1636" stroke-width="2.15" stroke-linejoin="miter"/>
<polyline points="336.8,417.5 345.5,411.9 354.2,414.0 363.0,413.1 371.7,409.4 380.5,398.1 389.2,384.0 397.9,374.0 406.7,369.2 415.4,360.6 424.2,359.1 441.6,357.5 459.1,386.5 476.6,416.0 505.9,418.4" fill="none" stroke="#649349" stroke-width="2.15" stroke-linejoin="miter" stroke-dasharray="4.0,1.4"/>
<path d="M346.85,397.90L345.75,404.50M349.05,397.90L347.95,404.50M345.10,400.10H349.80M344.80,402.50H349.50" stroke="#2a2a2a" stroke-width="1.05" fill="none"/>
<path d="M399.20,388.30L398.10,394.90M401.40,388.30L400.30,394.90M397.45,390.50H402.15M397.15,392.90H401.85M405.50,388.30L404.40,394.90M407.70,388.30L406.60,394.90M403.75,390.50H408.45M403.45,392.90H408.15" stroke="#2a2a2a" stroke-width="1.05" fill="none"/>
<path d="M415.15,368.90L414.05,375.50M417.35,368.90L416.25,375.50M413.40,371.10H418.10M413.10,373.50H417.80" stroke="#2a2a2a" stroke-width="1.05" fill="none"/>
<path d="M435.15,340.50L434.05,347.10M437.35,340.50L436.25,347.10M433.40,342.70H438.10M433.10,345.10H437.80M441.45,340.50L440.35,347.10M443.65,340.50L442.55,347.10M439.70,342.70H444.40M439.40,345.10H444.10M447.75,340.50L446.65,347.10M449.95,340.50L448.85,347.10M446.00,342.70H450.70M445.70,345.10H450.40" stroke="#2a2a2a" stroke-width="1.05" fill="none"/>
<polygon points="435.00,376.00 435.53,377.27 436.90,377.38 435.86,378.28 436.18,379.62 435.00,378.90 433.82,379.62 434.14,378.28 433.10,377.38 434.47,377.27" fill="#151515" stroke="#151515" stroke-width="0.35" stroke-linejoin="round"/>
<polygon points="439.80,376.00 440.33,377.27 441.70,377.38 440.66,378.28 440.98,379.62 439.80,378.90 438.62,379.62 438.94,378.28 437.90,377.38 439.27,377.27" fill="#151515" stroke="#151515" stroke-width="0.35" stroke-linejoin="round"/>
<polygon points="444.60,376.00 445.13,377.27 446.50,377.38 445.46,378.28 445.78,379.62 444.60,378.90 443.42,379.62 443.74,378.28 442.70,377.38 444.07,377.27" fill="#151515" stroke="#151515" stroke-width="0.35" stroke-linejoin="round"/>
<path d="M455.80,372.30L454.70,378.90M458.00,372.30L456.90,378.90M454.05,374.50H458.75M453.75,376.90H458.45M462.10,372.30L461.00,378.90M464.30,372.30L463.20,378.90M460.35,374.50H465.05M460.05,376.90H464.75" stroke="#2a2a2a" stroke-width="1.05" fill="none"/>
<polygon points="446.40,397.00 446.93,398.27 448.30,398.38 447.26,399.28 447.58,400.62 446.40,399.90 445.22,400.62 445.54,399.28 444.50,398.38 445.87,398.27" fill="#151515" stroke="#151515" stroke-width="0.35" stroke-linejoin="round"/>
<polygon points="451.20,397.00 451.73,398.27 453.10,398.38 452.06,399.28 452.38,400.62 451.20,399.90 450.02,400.62 450.34,399.28 449.30,398.38 450.67,398.27" fill="#151515" stroke="#151515" stroke-width="0.35" stroke-linejoin="round"/>
<polygon points="468.70,416.80 469.23,418.07 470.60,418.18 469.56,419.08 469.88,420.42 468.70,419.70 467.52,420.42 467.84,419.08 466.80,418.18 468.17,418.07" fill="#151515" stroke="#151515" stroke-width="0.35" stroke-linejoin="round"/>
<path d="M337.0,607.5V611.0M332.9,607.5H341.1M332.9,611.0H341.1" stroke="#1a1a1a" stroke-width="1.4" fill="none"/>
<path d="M362.9,607.5V611.0M358.8,607.5H367.0M358.8,611.0H367.0" stroke="#1a1a1a" stroke-width="1.4" fill="none"/>
<path d="M371.5,603.5V607.5M367.4,603.5H375.6M367.4,607.5H375.6" stroke="#1a1a1a" stroke-width="1.4" fill="none"/>
<path d="M380.3,598.5V603.0M376.2,598.5H384.4M376.2,603.0H384.4" stroke="#1a1a1a" stroke-width="1.4" fill="none"/>
<path d="M389.2,570.8V578.5M385.1,570.8H393.3M385.1,578.5H393.3" stroke="#1a1a1a" stroke-width="1.4" fill="none"/>
<path d="M398.4,560.9V575.9M394.3,560.9H402.5M394.3,575.9H402.5" stroke="#1a1a1a" stroke-width="1.4" fill="none"/>
<path d="M407.6,526.7V533.8M403.5,526.7H411.7M403.5,533.8H411.7" stroke="#1a1a1a" stroke-width="1.4" fill="none"/>
<path d="M416.2,515.4V526.9M412.1,515.4H420.3M412.1,526.9H420.3" stroke="#1a1a1a" stroke-width="1.4" fill="none"/>
<path d="M424.9,511.3V521.7M420.8,511.3H429.0M420.8,521.7H429.0" stroke="#1a1a1a" stroke-width="1.4" fill="none"/>
<path d="M441.8,466.8V476.3M437.7,466.8H445.9M437.7,476.3H445.9" stroke="#1a1a1a" stroke-width="1.4" fill="none"/>
<path d="M459.4,457.3V464.2M455.3,457.3H463.5M455.3,464.2H463.5" stroke="#1a1a1a" stroke-width="1.4" fill="none"/>
<path d="M476.6,494.0V534.0M472.5,494.0H480.7M472.5,534.0H480.7" stroke="#1a1a1a" stroke-width="1.4" fill="none"/>
<path d="M502.5,585.8V604.4M498.4,585.8H506.6M498.4,604.4H506.6" stroke="#1a1a1a" stroke-width="1.4" fill="none"/>
<path d="M502.5,589.7V599.3M498.4,589.7H506.6M498.4,599.3H506.6" stroke="#1a1a1a" stroke-width="1.4" fill="none"/>
<path d="M389.2,578.5V589.2M385.1,578.5H393.3M385.1,589.2H393.3" stroke="#1a1a1a" stroke-width="1.4" fill="none"/>
<path d="M407.6,545.4V559.2M403.5,545.4H411.7M403.5,559.2H411.7" stroke="#1a1a1a" stroke-width="1.4" fill="none"/>
<path d="M416.2,537.3V553.4M412.1,537.3H420.3M412.1,553.4H420.3" stroke="#1a1a1a" stroke-width="1.4" fill="none"/>
<path d="M424.9,533.3V548.8M420.8,533.3H429.0M420.8,548.8H429.0" stroke="#1a1a1a" stroke-width="1.4" fill="none"/>
<path d="M441.8,490.2V501.4M437.7,490.2H445.9M437.7,501.4H445.9" stroke="#1a1a1a" stroke-width="1.4" fill="none"/>
<path d="M459.4,464.0V471.0M455.3,464.0H463.5M455.3,471.0H463.5" stroke="#1a1a1a" stroke-width="1.4" fill="none"/>
<path d="M476.6,465.6V476.4M472.5,465.6H480.7M472.5,476.4H480.7" stroke="#1a1a1a" stroke-width="1.4" fill="none"/>
<path d="M441.8,497.0V522.2M437.7,497.0H445.9M437.7,522.2H445.9" stroke="#1a1a1a" stroke-width="1.4" fill="none"/>
<path d="M459.4,470.0V501.8M455.3,470.0H463.5M455.3,501.8H463.5" stroke="#1a1a1a" stroke-width="1.4" fill="none"/>
<path d="M476.6,496.9V502.8M472.5,496.9H480.7M472.5,502.8H480.7" stroke="#1a1a1a" stroke-width="1.4" fill="none"/>
<polyline points="337.0,609.2 345.6,610.8 354.2,611.5 362.9,609.2 371.5,605.4 380.3,600.8 389.2,581.5 398.4,563.8 407.6,546.5 416.2,540.7 424.9,541.3 441.8,495.4 459.4,467.7 476.6,471.5 502.5,592.5" fill="none" stroke="#8c1636" stroke-width="2.15" stroke-linejoin="miter"/>
<polyline points="337.0,609.2 345.6,610.8 354.2,611.5 362.9,609.2 371.5,605.4 380.3,600.8 389.2,576.9 398.4,562.0 407.6,529.2 416.2,521.5 424.9,516.0 441.8,471.2 459.4,461.6 476.6,514.0 502.5,596.0" fill="none" stroke="#28396a" stroke-width="2.15" stroke-linejoin="miter"/>
<polyline points="337.0,609.2 345.6,610.8 354.2,611.5 362.9,609.2 371.5,605.4 380.3,600.8 389.2,586.2 398.4,566.0 407.6,552.3 416.2,544.2 424.9,541.3 441.8,502.3 459.4,489.3 476.6,500.8 502.5,594.6" fill="none" stroke="#649349" stroke-width="2.15" stroke-linejoin="miter" stroke-dasharray="4.0,1.4"/>
<polygon points="405.70,518.00 406.23,519.27 407.60,519.38 406.56,520.28 406.88,521.62 405.70,520.90 404.52,521.62 404.84,520.28 403.80,519.38 405.17,519.27" fill="#151515" stroke="#151515" stroke-width="0.35" stroke-linejoin="round"/>
<polygon points="410.50,518.00 411.03,519.27 412.40,519.38 411.36,520.28 411.68,521.62 410.50,520.90 409.32,521.62 409.64,520.28 408.60,519.38 409.97,519.27" fill="#151515" stroke="#151515" stroke-width="0.35" stroke-linejoin="round"/>
<polygon points="413.70,506.70 414.23,507.97 415.60,508.08 414.56,508.98 414.88,510.32 413.70,509.60 412.52,510.32 412.84,508.98 411.80,508.08 413.17,507.97" fill="#151515" stroke="#151515" stroke-width="0.35" stroke-linejoin="round"/>
<polygon points="418.50,506.70 419.03,507.97 420.40,508.08 419.36,508.98 419.68,510.32 418.50,509.60 417.32,510.32 417.64,508.98 416.60,508.08 417.97,507.97" fill="#151515" stroke="#151515" stroke-width="0.35" stroke-linejoin="round"/>
<polygon points="422.40,500.90 422.93,502.17 424.30,502.28 423.26,503.18 423.58,504.52 422.40,503.80 421.22,504.52 421.54,503.18 420.50,502.28 421.87,502.17" fill="#151515" stroke="#151515" stroke-width="0.35" stroke-linejoin="round"/>
<polygon points="427.20,500.90 427.73,502.17 429.10,502.28 428.06,503.18 428.38,504.52 427.20,503.80 426.02,504.52 426.34,503.18 425.30,502.28 426.67,502.17" fill="#151515" stroke="#151515" stroke-width="0.35" stroke-linejoin="round"/>
<polygon points="439.90,457.60 440.43,458.87 441.80,458.98 440.76,459.88 441.08,461.22 439.90,460.50 438.72,461.22 439.04,459.88 438.00,458.98 439.37,458.87" fill="#151515" stroke="#151515" stroke-width="0.35" stroke-linejoin="round"/>
<polygon points="444.70,457.60 445.23,458.87 446.60,458.98 445.56,459.88 445.88,461.22 444.70,460.50 443.52,461.22 443.84,459.88 442.80,458.98 444.17,458.87" fill="#151515" stroke="#151515" stroke-width="0.35" stroke-linejoin="round"/>
<polygon points="476.00,440.80 476.53,442.07 477.90,442.18 476.86,443.08 477.18,444.42 476.00,443.70 474.82,444.42 475.14,443.08 474.10,442.18 475.47,442.07" fill="#151515" stroke="#151515" stroke-width="0.35" stroke-linejoin="round"/>
<path d="M475.55,452.30L474.45,458.90M477.75,452.30L476.65,458.90M473.80,454.50H478.50M473.50,456.90H478.20" stroke="#2a2a2a" stroke-width="1.05" fill="none"/>
<path d="M337.9,657.8V665.2M333.8,657.8H342.0M333.8,665.2H342.0" stroke="#1a1a1a" stroke-width="1.4" fill="none"/>
<path d="M337.9,665.2V671.9M333.8,665.2H342.0M333.8,671.9H342.0" stroke="#1a1a1a" stroke-width="1.4" fill="none"/>
<path d="M337.9,671.9V680.0M333.8,671.9H342.0M333.8,680.0H342.0" stroke="#1a1a1a" stroke-width="1.4" fill="none"/>
<path d="M355.0,688.0V704.2M350.9,688.0H359.1M350.9,704.2H359.1" stroke="#1a1a1a" stroke-width="1.4" fill="none"/>
<path d="M363.6,685.1V694.1M359.5,685.1H367.7M359.5,694.1H367.7" stroke="#1a1a1a" stroke-width="1.4" fill="none"/>
<path d="M363.6,694.1V702.9M359.5,694.1H367.7M359.5,702.9H367.7" stroke="#1a1a1a" stroke-width="1.4" fill="none"/>
<path d="M372.2,718.5V734.6M368.1,718.5H376.3M368.1,734.6H376.3" stroke="#1a1a1a" stroke-width="1.4" fill="none"/>
<path d="M380.8,736.2V740.8M376.7,736.2H384.9M376.7,740.8H384.9" stroke="#1a1a1a" stroke-width="1.4" fill="none"/>
<path d="M380.8,757.7V770.0M376.7,757.7H384.9M376.7,770.0H384.9" stroke="#1a1a1a" stroke-width="1.4" fill="none"/>
<path d="M389.4,746.9V752.3M385.3,746.9H393.5M385.3,752.3H393.5" stroke="#1a1a1a" stroke-width="1.4" fill="none"/>
<path d="M397.9,759.2V766.2M393.8,759.2H402.0M393.8,766.2H402.0" stroke="#1a1a1a" stroke-width="1.4" fill="none"/>
<path d="M406.5,773.8V779.2M402.4,773.8H410.6M402.4,779.2H410.6" stroke="#1a1a1a" stroke-width="1.4" fill="none"/>
<path d="M415.1,773.0V789.1M411.0,773.0H419.2M411.0,789.1H419.2" stroke="#1a1a1a" stroke-width="1.4" fill="none"/>
<path d="M423.7,801.2V814.7M419.6,801.2H427.8M419.6,814.7H427.8" stroke="#1a1a1a" stroke-width="1.4" fill="none"/>
<path d="M440.8,795.9V810.7M436.7,795.9H444.9M436.7,810.7H444.9" stroke="#1a1a1a" stroke-width="1.4" fill="none"/>
<path d="M458.0,771.6V805.3M453.9,771.6H462.1M453.9,805.3H462.1" stroke="#1a1a1a" stroke-width="1.4" fill="none"/>
<path d="M475.2,679.4V698.8M471.1,679.4H479.3M471.1,698.8H479.3" stroke="#1a1a1a" stroke-width="1.4" fill="none"/>
<path d="M475.2,701.3V728.8M471.1,701.3H479.3M471.1,728.8H479.3" stroke="#1a1a1a" stroke-width="1.4" fill="none"/>
<path d="M475.2,731.3V747.5M471.1,731.3H479.3M471.1,747.5H479.3" stroke="#1a1a1a" stroke-width="1.4" fill="none"/>
<path d="M500.9,680.0V695.0M496.8,680.0H505.0M496.8,695.0H505.0" stroke="#1a1a1a" stroke-width="1.4" fill="none"/>
<path d="M500.9,683.1V690.0M496.8,683.1H505.0M496.8,690.0H505.0" stroke="#1a1a1a" stroke-width="1.4" fill="none"/>
<polyline points="337.9,678.0 355.0,697.5 363.6,698.8 372.2,723.0 380.8,739.2 389.4,750.0 397.9,761.5 406.5,776.2 415.1,775.7 423.7,812.7 440.8,810.0 458.0,803.3 475.2,737.5 500.9,689.4" fill="none" stroke="#8c1636" stroke-width="2.15" stroke-linejoin="miter"/>
<polyline points="337.9,660.5 355.0,691.4 363.6,692.1 372.2,729.2 380.8,758.5 389.4,755.4 397.9,761.5 406.5,776.2 415.1,780.4 423.7,812.5 440.8,806.0 458.0,783.1 475.2,690.0 500.9,685.0" fill="none" stroke="#28396a" stroke-width="2.15" stroke-linejoin="miter"/>
<polyline points="337.9,671.0 355.0,692.8 363.6,694.8 372.2,726.9 380.8,741.5 389.4,753.8 397.9,761.5 406.5,776.2 415.1,776.0 423.7,803.0 440.8,797.5 458.0,785.8 475.2,712.5 500.9,689.4" fill="none" stroke="#649349" stroke-width="2.15" stroke-linejoin="miter" stroke-dasharray="4.0,1.4"/>
<polygon points="337.70,648.30 338.23,649.57 339.60,649.68 338.56,650.58 338.88,651.92 337.70,651.20 336.52,651.92 336.84,650.58 335.80,649.68 337.17,649.57" fill="#151515" stroke="#151515" stroke-width="0.35" stroke-linejoin="round"/>
<polygon points="373.20,709.30 373.73,710.57 375.10,710.68 374.06,711.58 374.38,712.92 373.20,712.20 372.02,712.92 372.34,711.58 371.30,710.68 372.67,710.57" fill="#151515" stroke="#151515" stroke-width="0.35" stroke-linejoin="round"/>
<polygon points="415.50,763.80 416.03,765.07 417.40,765.18 416.36,766.08 416.68,767.42 415.50,766.70 414.32,767.42 414.64,766.08 413.60,765.18 414.97,765.07" fill="#151515" stroke="#151515" stroke-width="0.35" stroke-linejoin="round"/>
<path d="M439.85,783.80L438.75,790.40M442.05,783.80L440.95,790.40M438.10,786.00H442.80M437.80,788.40H442.50" stroke="#2a2a2a" stroke-width="1.05" fill="none"/>
<path d="M457.05,750.20L455.95,756.80M459.25,750.20L458.15,756.80M455.30,752.40H460.00M455.00,754.80H459.70" stroke="#2a2a2a" stroke-width="1.05" fill="none"/>
<polygon points="457.50,763.10 458.03,764.37 459.40,764.48 458.36,765.38 458.68,766.72 457.50,766.00 456.32,766.72 456.64,765.38 455.60,764.48 456.97,764.37" fill="#151515" stroke="#151515" stroke-width="0.35" stroke-linejoin="round"/>
<polygon points="473.20,670.70 473.73,671.97 475.10,672.08 474.06,672.98 474.38,674.32 473.20,673.60 472.02,674.32 472.34,672.98 471.30,672.08 472.67,671.97" fill="#151515" stroke="#151515" stroke-width="0.35" stroke-linejoin="round"/>
<polygon points="478.00,670.70 478.53,671.97 479.90,672.08 478.86,672.98 479.18,674.32 478.00,673.60 476.82,674.32 477.14,672.98 476.10,672.08 477.47,671.97" fill="#151515" stroke="#151515" stroke-width="0.35" stroke-linejoin="round"/>
</svg>
</body></html>
